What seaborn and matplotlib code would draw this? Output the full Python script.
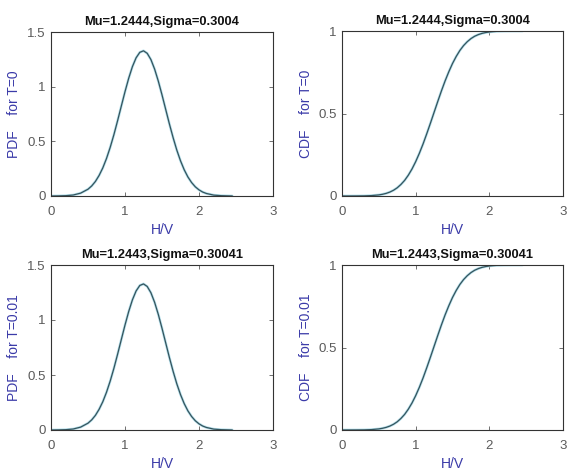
import matplotlib
matplotlib.use("Agg")
import matplotlib.pyplot as plt
import seaborn as sns
import pandas as pd

# values
hv = [0.0, 0.1, 0.2, 0.3, 0.4, 0.5, 0.55, 0.6, 0.65, 0.7, 0.75, 0.8, 0.85, 0.9,
      0.95, 1.0, 1.05, 1.1, 1.15, 1.2, 1.25, 1.3, 1.35, 1.4, 1.45, 1.5, 1.55,
      1.6, 1.65, 1.7, 1.75, 1.8, 1.85, 1.9, 1.95, 2.0, 2.05, 2.1, 2.2, 2.3,
      2.4, 2.45]
pdf_t0 = [0.000, 0.001, 0.003, 0.009, 0.026, 0.062, 0.092, 0.133, 0.188, 0.257,
          0.343, 0.445, 0.561, 0.689, 0.822, 0.954, 1.077, 1.183, 1.264, 1.314,
          1.328, 1.305, 1.248, 1.161, 1.051, 0.925, 0.792, 0.659, 0.534, 0.420,
          0.322, 0.240, 0.174, 0.123, 0.084, 0.056, 0.036, 0.023, 0.008, 0.003,
          0.001, 0.000]
cdf_t0 = [0.0000, 0.0001, 0.0003, 0.0008, 0.0025, 0.0066, 0.0104, 0.016,
          0.0239, 0.035, 0.0499, 0.070, 0.0946, 0.126, 0.1635, 0.208, 0.2588,
          0.315, 0.3767, 0.441, 0.507, 0.573, 0.6374, 0.698, 0.7531, 0.803,
          0.8455, 0.882, 0.9115, 0.935, 0.9538, 0.968, 0.9781, 0.9855, 0.9906,
          0.994, 0.9963, 0.9978, 0.9993, 0.9998, 0.9999, 1.0]
pdf_t001 = pdf_t0[:]
cdf_t001 = cdf_t0[:]

titles = ["Mu=1.2444,Sigma=0.3004", "Mu=1.2444,Sigma=0.3004",
          "Mu=1.2443,Sigma=0.30041", "Mu=1.2443,Sigma=0.30041"]
ylabels = ["PDF    for T=0", "CDF    for T=0",
           "PDF    for T=0.01", "CDF    for T=0.01"]
series = [pdf_t0, cdf_t0, pdf_t001, cdf_t001]
yticks = [[0, 0.5, 1, 1.5], [0, 0.5, 1], [0, 0.5, 1, 1.5], [0, 0.5, 1]]
yticklabels = [["0", "0.5", "1", "1.5"], ["0", "0.5", "1"],
               ["0", "0.5", "1", "1.5"], ["0", "0.5", "1"]]
xticks = [0, 1, 2, 3]
xticklabels = ["0", "1", "2", "3"]

sns.set_theme(style="white")
plt.rcParams['font.family'] = ['Liberation Sans', 'DejaVu Sans']

W, H = 568, 474
fig = plt.figure(figsize=(W / 100, H / 100), dpi=100)
# axes boxes in pixels: left, top, right, bottom
boxes = [(51, 32, 273, 196), (342, 31, 563, 196),
         (51, 265, 273, 430), (342, 265, 563, 430)]

for i, (l, t, r, b) in enumerate(boxes):
    ax = fig.add_axes([l / W, 1 - b / H, (r - l) / W, (b - t) / H])
    df = pd.DataFrame({"x": hv, "y": series[i]})
    sns.lineplot(data=df, x="x", y="y", ax=ax, color="#b5e0ec", lw=1.9)
    sns.lineplot(data=df, x="x", y="y", ax=ax, color="#35535c", lw=0.9)
    ax.set_xlim(0, 3)
    ax.set_ylim(yticks[i][0], yticks[i][-1])
    ax.set_xticks(xticks)
    ax.set_xticklabels(xticklabels)
    ax.set_yticks(yticks[i])
    ax.set_yticklabels(yticklabels[i])
    ax.tick_params(direction="in", length=3, width=0.6, colors="#5a5a5a",
                   labelsize=9.5, top=True, right=True, bottom=True, left=True,
                   pad=4)
    ax.tick_params(axis="x", pad=7)
    for s in ax.spines.values():
        s.set_color("#333333")
        s.set_linewidth(0.8)
    ax.set_title(titles[i], fontsize=9.3, fontweight="bold", color="#111111", pad=5)
    ax.set_xlabel("H/V", fontsize=10, color="#3a3aa8", labelpad=4)
    ax.set_ylabel(ylabels[i], fontsize=10, color="#3a3aa8", labelpad=4)

fig.savefig("out.png", dpi=100, facecolor="white")
